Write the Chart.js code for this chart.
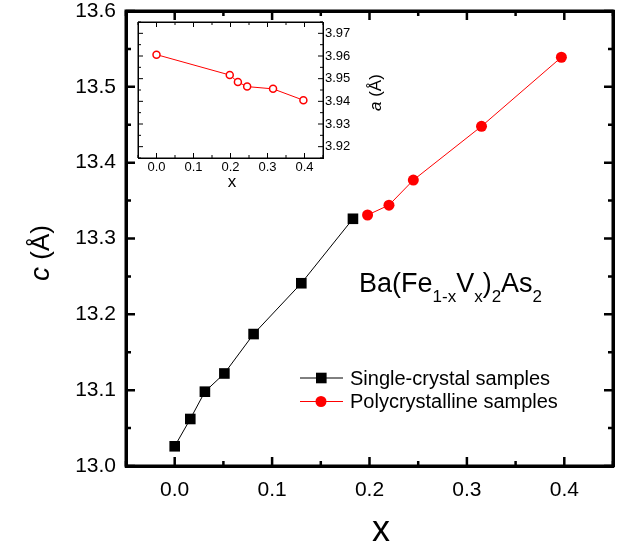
<!DOCTYPE html>
<html>
<head>
<meta charset="utf-8">
<script src="https://cdn.jsdelivr.net/npm/chart.js@4.4.1/dist/chart.umd.min.js"></script>
<style>
  html, body { margin: 0; padding: 0; background: #fff; }
  #wrap { position: relative; width: 637px; height: 552px; }
  #main { position: absolute; left: 0; top: 0; z-index: 1; }
  #inset { position: absolute; left: 100px; top: 0; z-index: 2; }
</style>
</head>
<body>
<div id="wrap">
  <canvas id="main" width="637" height="552"></canvas>
  <canvas id="inset" width="330" height="200"></canvas>
</div>
<script>
// lattice parameter c vs V content
const singleX = [0, 0.016, 0.031, 0.051, 0.081, 0.13, 0.183];
const singleC = [13.026, 13.062, 13.098, 13.122, 13.174, 13.241, 13.326];
const polyX = [0.198, 0.22, 0.245, 0.315, 0.397];
const polyC = [13.331, 13.344, 13.377, 13.448, 13.539];

// inset: lattice parameter a
const insetX = [0, 0.198, 0.22, 0.245, 0.315, 0.397];
const insetA = [3.9606, 3.9516, 3.9485, 3.9465, 3.9455, 3.9405];

const legendLabels = ['Single-crystal samples', 'Polycrystalline samples'];

const FONT = '"Liberation Sans", Arial, sans-serif';

const pts = (xs, ys) => xs.map((x, i) => ({ x: x, y: ys[i] }));

// inward major / minor ticks on all four sides, plus the box
function drawFrame(chart, cfg) {
  const ctx = chart.ctx;
  const a = chart.chartArea;
  const xs = chart.scales.x, ys = chart.scales.y;
  ctx.save();
  ctx.globalAlpha = 1;
  ctx.globalCompositeOperation = 'source-over';
  ctx.setLineDash([]);
  ctx.strokeStyle = '#000000';
  ctx.lineWidth = cfg.tickWidth;
  ctx.beginPath();
  for (const t of xs.ticks) {
    const len = t.label ? cfg.major : cfg.minor;
    const px = xs.getPixelForValue(t.value);
    ctx.moveTo(px, a.bottom); ctx.lineTo(px, a.bottom - len);
    ctx.moveTo(px, a.top); ctx.lineTo(px, a.top + len);
  }
  for (const t of ys.ticks) {
    const len = t.label ? cfg.major : cfg.minor;
    const py = ys.getPixelForValue(t.value);
    ctx.moveTo(a.left, py); ctx.lineTo(a.left + len, py);
    ctx.moveTo(a.right, py); ctx.lineTo(a.right - len, py);
  }
  ctx.stroke();
  ctx.lineWidth = cfg.lineWidth;
  ctx.beginPath();
  ctx.rect(a.left, a.top, a.right - a.left, a.bottom - a.top);
  ctx.stroke();
  ctx.restore();
}

// extra zero-size axis that only draws a border line on the far side
function edgeAxis(position, min, max, width) {
  const horizontal = position === 'top' || position === 'bottom';
  return {
    type: 'linear',
    position: position,
    display: true,
    min: min,
    max: max,
    grid: { display: false, drawTicks: false },
    border: { display: true, width: width, color: '#000' },
    ticks: { display: false },
    afterFit: (s) => {
      if (horizontal) { s.height = 0; } else { s.width = 0; }
      s.paddingTop = s.paddingBottom = s.paddingLeft = s.paddingRight = 0;
    }
  };
}

const mainDecor = {
  id: 'mainDecor',
  afterDraw(chart) {
    const ctx = chart.ctx;
    ctx.save();
    ctx.fillStyle = '#000';
    ctx.textBaseline = 'alphabetic';

    // x title
    ctx.font = '36px ' + FONT;
    ctx.textAlign = 'center';
    ctx.fillText('x', 381, 541);

    // y title, rotated
    ctx.save();
    ctx.translate(49, 281);
    ctx.rotate(-Math.PI / 2);
    ctx.textAlign = 'left';
    ctx.font = 'italic 28px ' + FONT;
    ctx.fillText('c', 0, 0);
    const w = ctx.measureText('c').width;
    ctx.font = '26px ' + FONT;
    ctx.fillText(' (Å)', w, 0);
    ctx.restore();

    // formula with subscripts
    const parts = [
      ['Ba(Fe', 0], ['1-x', 1], ['V', 0], ['x', 1], [')', 0], ['2', 1], ['As', 0], ['2', 1]
    ];
    let x = 359;
    ctx.textAlign = 'left';
    parts.forEach(([s, sub]) => {
      ctx.font = (sub ? '17px ' : '27px ') + FONT;
      ctx.fillText(s, x, sub ? 302 : 292);
      x += ctx.measureText(s).width;
    });

    // legend
    const rows = [
      { y: 378, color: '#000', style: 'rect', base: 385 },
      { y: 401.5, color: '#ff0000', style: 'circle', base: 408 }
    ];
    rows.forEach((r, i) => {
      ctx.strokeStyle = r.color;
      ctx.fillStyle = r.color;
      ctx.lineWidth = 1;
      ctx.beginPath();
      ctx.moveTo(300, r.y); ctx.lineTo(343, r.y);
      ctx.stroke();
      if (r.style === 'rect') {
        ctx.fillRect(316, r.y - 5.3, 10.6, 10.6);
      } else {
        ctx.beginPath();
        ctx.arc(321, r.y, 5.5, 0, Math.PI * 2);
        ctx.fill();
      }
      ctx.fillStyle = '#000';
      ctx.font = '20px ' + FONT;
      ctx.fillText(legendLabels[i], 350, r.base);
    });
    ctx.restore();

    drawFrame(chart, { lineWidth: 3, tickWidth: 2.5, major: 9, minor: 5 });
  }
};

const insetDecor = {
  id: 'insetDecor',
  afterDraw(chart) {
    const ctx = chart.ctx;
    ctx.save();
    ctx.fillStyle = '#000';
    ctx.textBaseline = 'alphabetic';
    ctx.font = '17px ' + FONT;
    ctx.textAlign = 'center';
    ctx.fillText('x', 132, 187);

    ctx.save();
    ctx.translate(281, 111);
    ctx.rotate(-Math.PI / 2);
    ctx.textAlign = 'left';
    ctx.font = 'italic 17px ' + FONT;
    ctx.fillText('a', 0, 0);
    const w = ctx.measureText('a').width;
    ctx.font = '17px ' + FONT;
    ctx.fillText(' (Å)', w, 0);
    ctx.restore();
    ctx.restore();

    drawFrame(chart, { lineWidth: 1, tickWidth: 1, major: 5, minor: 3 });
  }
};

const majorLabel = (step, digits) => (v) => {
  const n = Math.round(v / step);
  return n % 2 === 0 ? Number(v).toFixed(digits) : '';
};

// inset first, main chart last
new Chart(document.getElementById('inset'), {
  type: 'scatter',
  data: {
    datasets: [
      {
        data: pts(insetX, insetA),
        showLine: true,
        borderColor: '#ff0000',
        backgroundColor: '#fff',
        borderWidth: 1,
        pointStyle: 'circle',
        pointRadius: 3.5,
        pointBorderWidth: 1.5,
        pointBorderColor: '#ff0000',
        pointBackgroundColor: '#fff'
      }
    ]
  },
  options: {
    responsive: false,
    animation: false,
    devicePixelRatio: 1,
    layout: { padding: { left: 38, right: 0, top: 22, bottom: 0 } },
    plugins: {
      legend: { display: false },
      tooltip: { enabled: false }
    },
    scales: {
      x: {
        type: 'linear',
        min: -0.05,
        max: 0.45,
        afterFit: (s) => { s.height = 42; s.paddingLeft = s.paddingRight = 0; },
        grid: { display: false, drawTicks: false },
        border: { display: true, width: 1, color: '#000' },
        ticks: {
          stepSize: 0.05,
          autoSkip: false,
          maxRotation: 0,
          padding: 2,
          color: '#000',
          font: { family: FONT, size: 13 },
          callback: majorLabel(0.05, 1)
        }
      },
      y: {
        type: 'linear',
        position: 'right',
        min: 3.915,
        max: 3.975,
        afterFit: (s) => { s.width = 107; s.paddingTop = s.paddingBottom = 0; },
        grid: { display: false, drawTicks: false },
        border: { display: true, width: 1, color: '#000' },
        ticks: {
          stepSize: 0.005,
          autoSkip: false,
          padding: 2,
          color: '#000',
          font: { family: FONT, size: 13 },
          callback: majorLabel(0.005, 2)
        }
      },
      x2: edgeAxis('top', -0.05, 0.45, 1),
      y2: edgeAxis('left', 3.915, 3.975, 1)
    }
  },
  plugins: [insetDecor]
});

new Chart(document.getElementById('main'), {
  type: 'scatter',
  data: {
    datasets: [
      {
        data: pts(singleX, singleC),
        showLine: true,
        borderColor: '#000',
        backgroundColor: '#000',
        borderWidth: 1,
        pointStyle: 'rect',
        pointRadius: 7.5,
        pointBorderWidth: 0
      },
      {
        data: pts(polyX, polyC),
        showLine: true,
        borderColor: '#ff0000',
        backgroundColor: '#ff0000',
        borderWidth: 1,
        pointStyle: 'circle',
        pointRadius: 5.5,
        pointBorderWidth: 0
      }
    ]
  },
  options: {
    responsive: false,
    animation: false,
    devicePixelRatio: 1,
    layout: { padding: { left: 0, right: 24, top: 11, bottom: 0 } },
    plugins: {
      legend: { display: false },
      tooltip: { enabled: false }
    },
    scales: {
      x: {
        type: 'linear',
        min: -0.05,
        max: 0.45,
        afterFit: (s) => { s.height = 86; s.paddingLeft = s.paddingRight = 0; },
        grid: { display: false, drawTicks: false },
        border: { display: true, width: 3, color: '#000' },
        ticks: {
          stepSize: 0.05,
          autoSkip: false,
          maxRotation: 0,
          padding: 12,
          color: '#000',
          font: { family: FONT, size: 21 },
          callback: majorLabel(0.05, 1)
        }
      },
      y: {
        type: 'linear',
        min: 13.0,
        max: 13.6,
        afterFit: (s) => { s.width = 126; s.paddingTop = s.paddingBottom = 0; },
        grid: { display: false, drawTicks: false },
        border: { display: true, width: 3, color: '#000' },
        ticks: {
          stepSize: 0.05,
          autoSkip: false,
          padding: 10,
          color: '#000',
          font: { family: FONT, size: 21 },
          callback: majorLabel(0.05, 1)
        }
      },
      x2: edgeAxis('top', -0.05, 0.45, 3),
      y2: edgeAxis('right', 13.0, 13.6, 3)
    }
  },
  plugins: [mainDecor]
});
</script>
</body>
</html>
